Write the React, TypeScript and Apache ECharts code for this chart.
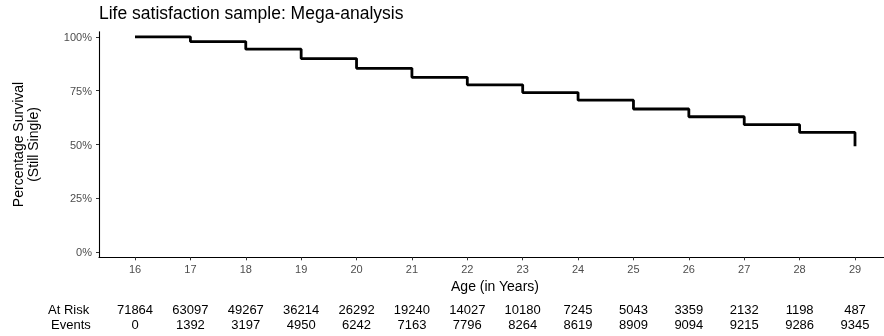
import React, { useEffect, useRef } from "react";
import * as echarts from "echarts";

const ages = [16, 17, 18, 19, 20, 21, 22, 23, 24, 25, 26, 27, 28, 29];
const survival = [1.0, 0.978, 0.943, 0.899, 0.854, 0.812, 0.777, 0.741, 0.706, 0.665, 0.629, 0.592, 0.556, 0.492];
const atRisk = [71864, 63097, 49267, 36214, 26292, 19240, 14027, 10180, 7245, 5043, 3359, 2132, 1198, 487];
const events = [0, 1392, 3197, 4950, 6242, 7163, 7796, 8264, 8619, 8909, 9094, 9215, 9286, 9345];
const yTicks = [0, 0.25, 0.5, 0.75, 1];

const FONT = "Liberation Sans, Arial, sans-serif";

export default function App() {
  const ref = useRef<HTMLDivElement>(null);
  useEffect(() => {
    if (!ref.current) return;
    const chart = echarts.init(ref.current, null, { renderer: "svg" });
    const tableAxis = (vals: number[], offset: number) => ({
      type: "value",
      position: "bottom",
      min: 15.35,
      max: 29.65,
      offset,
      axisLine: { show: false },
      axisTick: { show: false },
      splitLine: { show: false },
      axisLabel: {
        customValues: ages,
        margin: 0,
        color: "#000",
        fontSize: 13,
        fontFamily: FONT,
        verticalAlign: "middle",
        formatter: (v: number) => String(vals[Math.round(v) - 16]),
      },
    });
    chart.setOption({
      animation: false,
      textStyle: { fontFamily: FONT },
      title: {
        text: "Life satisfaction sample: Mega-analysis",
        left: 99,
        top: 4,
        padding: 0,
        textStyle: { fontSize: 17.5, fontWeight: "normal", color: "#000", fontFamily: FONT },
      },
      grid: { left: 99, top: 31.7, width: 792, height: 225.6, outerBoundsMode: "none", containLabel: false },
      xAxis: [
        {
          type: "value",
          min: 15.35,
          max: 29.65,
          name: "Age (in Years)",
          nameLocation: "middle",
          nameGap: 22,
          nameTextStyle: { fontSize: 14, color: "#000", fontFamily: FONT },
          axisLine: { show: true, onZero: false, lineStyle: { color: "#000", width: 1.1 } },
          axisTick: { show: true, customValues: ages, length: 3, lineStyle: { color: "#333" } },
          splitLine: { show: false },
          axisLabel: {
            customValues: ages,
            margin: 6,
            color: "#4d4d4d",
            fontSize: 11,
            fontFamily: FONT,
          },
        },
        tableAxis(atRisk, 52.2),
        tableAxis(events, 67.2),
      ],
      yAxis: {
        type: "value",
        min: -0.024,
        max: 1.024,
        name: "Percentage Survival\n(Still Single)",
        nameLocation: "middle",
        nameGap: 59,
        nameTextStyle: { fontSize: 14, color: "#000", fontFamily: FONT, lineHeight: 15 },
        axisLine: { show: true, lineStyle: { color: "#000", width: 1.1 } },
        axisTick: { show: true, customValues: yTicks, length: 3, lineStyle: { color: "#333" } },
        splitLine: { show: false },
        axisLabel: {
          customValues: yTicks,
          margin: 7,
          color: "#4d4d4d",
          fontSize: 11,
          fontFamily: FONT,
          formatter: (v: number) => `${Math.round(v * 100)}%`,
        },
      },
      graphic: [
        {
          type: "text",
          left: 48,
          top: 302.8,
          style: { text: "At Risk", fontSize: 13, fontFamily: FONT, fill: "#000" },
        },
        {
          type: "text",
          left: 51,
          top: 317.8,
          style: { text: "Events", fontSize: 13, fontFamily: FONT, fill: "#000" },
        },
      ],
      series: [
        {
          type: "line",
          step: "end",
          symbol: "none",
          data: ages.map((a, i) => [a, survival[i]]),
          lineStyle: { color: "#000", width: 2.8 },
          xAxisIndex: 0,
        },
      ],
    });
    return () => chart.dispose();
  }, []);
  return <div ref={ref} style={{ position: "fixed", left: 0, top: 0, width: 884, height: 336 }} />;
}
